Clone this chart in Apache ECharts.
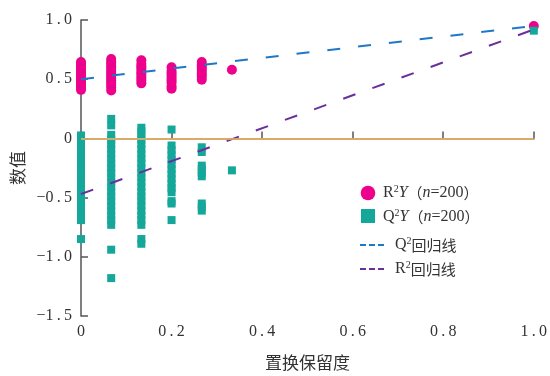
<!DOCTYPE html>
<html>
<head>
<meta charset="utf-8">
<script src="https://cdn.jsdelivr.net/npm/echarts@6/dist/echarts.min.js"></script>
<style>
  html, body { margin: 0; padding: 0; background: #fff; }
  #chart { width: 550px; height: 376px; }
</style>
</head>
<body>
<div id="chart"></div>
<script>
// Permutation retention levels (x positions of each permutation group)
const retention = [0, 0.0667, 0.1333, 0.2, 0.2667, 0.3333, 1.0];

// R2Y values of the permuted models, one array per retention level
const r2yAt0   = [0.41, 0.43, 0.45, 0.47, 0.49, 0.51, 0.53, 0.55, 0.57, 0.59, 0.61, 0.63, 0.645];
const r2yAt067 = [0.405, 0.43, 0.45, 0.47, 0.49, 0.51, 0.53, 0.55, 0.57, 0.59, 0.61, 0.63, 0.65, 0.67];
const r2yAt133 = [0.465, 0.49, 0.51, 0.53, 0.55, 0.57, 0.59, 0.61, 0.63, 0.66];
const r2yAt200 = [0.42, 0.44, 0.47, 0.49, 0.51, 0.53, 0.55, 0.57, 0.60];
const r2yAt267 = [0.495, 0.52, 0.54, 0.56, 0.58, 0.60, 0.62, 0.645];
const r2yAt333 = [0.58];
const r2yAt100 = [0.95];

// Q2Y values of the permuted models, one array per retention level
const q2yAt0   = [-0.85, -0.69, -0.65, -0.61, -0.57, -0.53, -0.49, -0.45, -0.41, -0.37, -0.33, -0.29, -0.25, -0.21, -0.17, -0.13, -0.09, -0.05, -0.01, 0.025];
const q2yAt067 = [-1.18, -0.94, -0.73, -0.69, -0.65, -0.61, -0.57, -0.53, -0.49, -0.45, -0.41, -0.37, -0.33, -0.29, -0.25, -0.21, -0.17, -0.13, -0.09, -0.05, -0.01, 0.03, 0.11, 0.165];
const q2yAt133 = [-0.89, -0.85, -0.73, -0.69, -0.65, -0.61, -0.57, -0.53, -0.49, -0.45, -0.41, -0.37, -0.33, -0.29, -0.25, -0.21, -0.17, -0.13, -0.09, -0.05, -0.01, 0.03, 0.06, 0.09];
const q2yAt200 = [-0.69, -0.55, -0.53, -0.455, -0.42, -0.38, -0.34, -0.30, -0.26, -0.22, -0.18, -0.14, -0.10, -0.06, 0.075];
const q2yAt267 = [-0.61, -0.58, -0.55, -0.32, -0.29, -0.26, -0.23, -0.115, -0.075];
const q2yAt333 = [-0.27];
const q2yAt100 = [0.91];

// Regression lines through the permutation results: [x, y] end points
const q2RegLine = [[0, 0.50], [1.0, 0.95]];
const r2RegLine = [[0, -0.47], [1.0, 0.92]];

// Axis ticks
const xTicks = [0, 0.2, 0.4, 0.6, 0.8, 1.0];
const yTicks = [-1.5, -1.0, -0.5, 0, 0.5, 1.0];

const r2yCols = [r2yAt0, r2yAt067, r2yAt133, r2yAt200, r2yAt267, r2yAt333, r2yAt100];
const q2yCols = [q2yAt0, q2yAt067, q2yAt133, q2yAt200, q2yAt267, q2yAt333, q2yAt100];
const toPoints = cols => cols.flatMap((col, i) => col.map(v => [retention[i], v]));

const PINK = '#ec008c', TEAL = '#14a79a', BLUE = '#1f78c6', PURPLE = '#6a2f9e', ORANGE = '#f7b860';
const SERIF = '"Liberation Serif", "DejaVu Serif", serif';
const CJK = '"Noto Sans CJK SC", sans-serif';

function tickText(v) {
  if (Math.abs(v) < 1e-9) return '0';
  let s = Math.abs(v).toFixed(1).replace('.', '\u2009.\u2009');
  return (v < 0 ? '\u2212' : '') + s;
}

const axisLineStyle = { color: '#555', width: 1.5 };

const chart = echarts.init(document.getElementById('chart'), null, { renderer: 'canvas' });
chart.setOption({
  animation: false,
  backgroundColor: '#fff',
  grid: { left: 81, right: 13, top: 20, bottom: 54, containLabel: false },
  xAxis: {
    type: 'value', min: xTicks[0], max: xTicks[xTicks.length - 1], interval: 0.2,
    name: '置换保留度', nameLocation: 'middle', nameGap: 38,
    nameTextStyle: { fontFamily: CJK, fontSize: 17, color: '#333' },
    axisLine: { show: true, lineStyle: axisLineStyle },
    axisTick: { show: true, inside: true, length: 7, lineStyle: axisLineStyle },
    axisLabel: { formatter: tickText, fontFamily: SERIF, fontSize: 16, color: '#333', margin: 8 },
    splitLine: { show: false }
  },
  yAxis: {
    type: 'value', min: yTicks[0], max: yTicks[yTicks.length - 1], interval: 0.5,
    name: '数值', nameLocation: 'middle', nameGap: 53, nameRotate: 90,
    nameTextStyle: { fontFamily: CJK, fontSize: 17, color: '#333' },
    axisLine: { show: true, lineStyle: axisLineStyle },
    axisTick: { show: true, inside: true, length: 7, lineStyle: axisLineStyle },
    axisLabel: { formatter: tickText, fontFamily: SERIF, fontSize: 16, color: '#333', margin: 9 },
    splitLine: { show: false }
  },
  series: [
    {
      name: 'zero', type: 'line', data: [], z: 1,
      markLine: {
        silent: true, symbol: 'none', label: { show: false },
        lineStyle: { color: ORANGE, width: 1.5, type: 'solid' },
        data: [{ yAxis: 0 }]
      }
    },
    {
      name: 'R2Y', type: 'scatter', data: toPoints(r2yCols), z: 2,
      symbol: 'circle', symbolSize: 10, itemStyle: { color: PINK, opacity: 1 }
    },
    {
      name: 'Q2Y', type: 'scatter', data: toPoints(q2yCols), z: 2,
      symbol: 'rect', symbolSize: 8, itemStyle: { color: TEAL, opacity: 1 }
    },
    {
      name: 'Q2 regression', type: 'line', data: q2RegLine, z: 3, symbol: 'none',
      lineStyle: { color: BLUE, width: 2, type: [13, 18] }
    },
    {
      name: 'R2 regression', type: 'line', data: r2RegLine, z: 3, symbol: 'none',
      lineStyle: { color: PURPLE, width: 2, type: [13, 18] }
    }
  ],
  graphic: [
    { type: 'circle', shape: { cx: 368, cy: 193, r: 7.3 }, style: { fill: PINK } },
    { type: 'rect', shape: { x: 361, y: 209, width: 14, height: 14 }, style: { fill: TEAL } },
    { type: 'line', shape: { x1: 360, y1: 245, x2: 384, y2: 245 }, style: { stroke: BLUE, lineWidth: 2, lineDash: [6, 3] } },
    { type: 'line', shape: { x1: 360, y1: 269, x2: 384, y2: 269 }, style: { stroke: PURPLE, lineWidth: 2, lineDash: [6, 3] } },
    {
      type: 'text', left: 383, top: 184,
      style: {
        text: '{r|R}{s|2}{i|Y}{c|（}{i|n}{r|=200}{c|）}',
        rich: {
          r: { fontFamily: SERIF, fontSize: 16, fill: '#333' },
          i: { fontFamily: SERIF, fontSize: 16, fontStyle: 'italic', fill: '#333' },
          s: { fontFamily: SERIF, fontSize: 10, fill: '#333', verticalAlign: 'top', padding: [0, 0, 8, 0] },
          c: { fontFamily: CJK, fontSize: 15, fill: '#333' }
        }
      }
    },
    {
      type: 'text', left: 383, top: 208,
      style: {
        text: '{r|Q}{s|2}{i|Y}{c|（}{i|n}{r|=200}{c|）}',
        rich: {
          r: { fontFamily: SERIF, fontSize: 16, fill: '#333' },
          i: { fontFamily: SERIF, fontSize: 16, fontStyle: 'italic', fill: '#333' },
          s: { fontFamily: SERIF, fontSize: 10, fill: '#333', verticalAlign: 'top', padding: [0, 0, 8, 0] },
          c: { fontFamily: CJK, fontSize: 15, fill: '#333' }
        }
      }
    },
    {
      type: 'text', left: 395, top: 236,
      style: {
        text: '{r|Q}{s|2}{c|回归线}',
        rich: {
          r: { fontFamily: SERIF, fontSize: 16, fill: '#333' },
          s: { fontFamily: SERIF, fontSize: 10, fill: '#333', verticalAlign: 'top', padding: [0, 0, 8, 0] },
          c: { fontFamily: CJK, fontSize: 15, fill: '#333' }
        }
      }
    },
    {
      type: 'text', left: 395, top: 260,
      style: {
        text: '{r|R}{s|2}{c|回归线}',
        rich: {
          r: { fontFamily: SERIF, fontSize: 16, fill: '#333' },
          s: { fontFamily: SERIF, fontSize: 10, fill: '#333', verticalAlign: 'top', padding: [0, 0, 8, 0] },
          c: { fontFamily: CJK, fontSize: 15, fill: '#333' }
        }
      }
    }
  ]
});
</script>
</body>
</html>
